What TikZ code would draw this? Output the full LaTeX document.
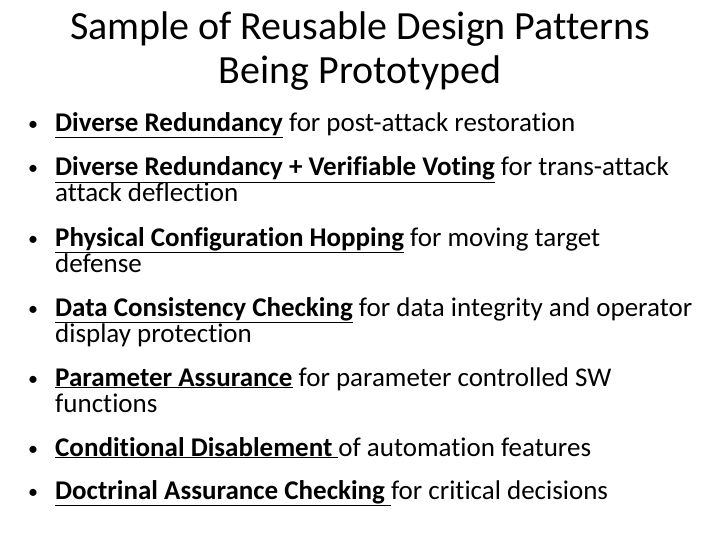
\documentclass[tikz,border=0pt]{standalone}
\usepackage{fontspec}
\setmainfont[Ligatures={NoCommon}]{Carlito}
\begin{document}
\begin{tikzpicture}[x=1pt,y=-1pt,
  title/.style={anchor=base,inner sep=0pt,font=\fontsize{40}{46}\selectfont},
  txt/.style={anchor=base west,inner sep=0pt,font=\fontsize{27}{32}\selectfont},
  bul/.style={anchor=base,inner sep=0pt,font=\fontsize{20}{24}\selectfont}]
\useasboundingbox[fill=white] (0,0) rectangle (720,540);
\node[title] (t1) at (360,40) {Sample of Reusable Design Patterns};
\node[title] (t2) at (360,84) {Being Prototyped};
\newcommand{\bitem}[3]{\node[bul] (b#1) at (33,#2-1) {\textbullet}; \node[txt] (l#1) at (55,#2) {#3};}
\bitem{1}{132}{\textbf{\underline{Diverse Redundancy}} for post-attack restoration}
\bitem{2}{176}{\textbf{\underline{Diverse Redundancy + Verifiable Voting}} for trans-attack}
\node[txt] (l2b) at (55,202) {attack deflection};
\bitem{3}{246}{\textbf{\underline{Physical Configuration Hopping}} for moving target}
\node[txt] (l3b) at (55,272) {defense};
\bitem{4}{316}{\textbf{\underline{Data Consistency Checking}} for data integrity and operator}
\node[txt] (l4b) at (55,342) {display protection};
\bitem{5}{386}{\textbf{\underline{Parameter Assurance}} for parameter controlled SW}
\node[txt] (l5b) at (55,412) {functions};
\bitem{6}{456}{\textbf{\underline{Conditional Disablement\ }}of automation features}
\bitem{7}{499}{\textbf{\underline{Doctrinal Assurance Checking\ }}for critical decisions}
\end{tikzpicture}
\end{document}
